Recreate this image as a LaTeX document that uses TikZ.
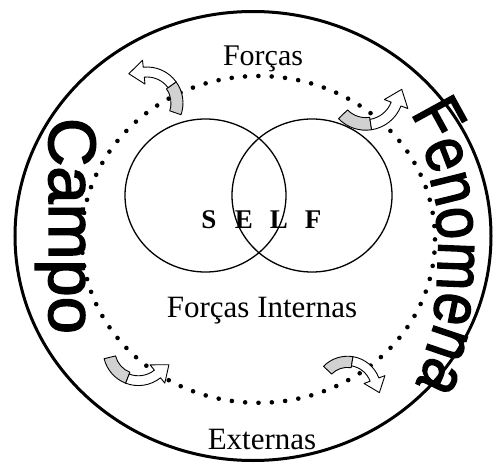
\documentclass[tikz,border=0pt]{standalone}
\usepackage{fontspec}
\setmainfont{Liberation Serif}
\newfontfamily\arialf{Liberation Sans}[FakeBold=2.2]
\usetikzlibrary{calc}
\definecolor{arrgray}{gray}{0.82}
\newcommand{\drawcurvarr}{%
  \filldraw[fill=arrgray, draw=black, line width=0.9pt, line join=round]
    (-15:36) arc[start angle=-15, end angle=40, radius=36] -- (40:24)
    arc[start angle=40, end angle=-15, radius=24] -- cycle;
  \filldraw[fill=white, draw=black, line width=0.9pt, line join=round]
    (40:36) arc[start angle=40, end angle=100, radius=36] -- (100:43)
    -- ($(100:31)+(190:15)$) -- (100:19) -- (100:26)
    arc[start angle=100, end angle=40, radius=26] -- cycle;
}
\tikzset{
  lbl/.style={font=\fontsize{31}{31}\selectfont, inner sep=0pt, anchor=base},
  selfl/.style={font=\bfseries\fontsize{27}{27}\selectfont, inner sep=0pt, anchor=base},
  fenl/.style={font=\arialf\fontsize{58}{58}\selectfont, inner sep=0pt, anchor=base},
  venn/.style={draw, line width=1.3pt},
}
\begin{document}
\begin{tikzpicture}[x=1pt,y=1pt]
\useasboundingbox (0,0) rectangle (493,467);
% outer ellipse
\draw[line width=3pt] (253,231) ellipse [x radius=238, y radius=224.5];
% dotted ellipse
\draw[line width=4.6pt, line cap=round, dash pattern=on 0pt off 13.36pt]
  (258.4,227.6) ellipse [x radius=176.6, y radius=163.4];
% venn circles
\draw[venn] (205.5,271.5) ellipse [x radius=80.5, y radius=76.5];
\draw[venn] (312,271.5) ellipse [x radius=80, y radius=76.5];
% curved arrows
\begin{scope}[shift={(147,364)}, rotate=-4]
  \drawcurvarr
\end{scope}
\begin{scope}[shift={(365.7,374.6)}, rotate=-121, scale=1.05]
  \drawcurvarr
\end{scope}
\begin{scope}[shift={(138.4,116.7)}, rotate=-151.2, scale=0.98]
  \drawcurvarr
\end{scope}
\begin{scope}[shift={(347.5,77.3)}, rotate=-59.4, xscale=-1, scale=0.93]
  \drawcurvarr
\end{scope}
% texts
\node[lbl, font=\fontsize{30}{30}\selectfont] (forcas) at (263,401) {Forças};
\node[lbl] (internas) at (262,150) {Forças Internas};
\node[lbl] (externas) at (262,18) {Externas};
\node[selfl] (s) at (209,239) {S};
\node[selfl] (e) at (244,239) {E};
\node[selfl] (l) at (279,239) {L};
\node[selfl] (f) at (313,239) {F};
\node[font=\arialf\fontsize{67}{67}\selectfont, rotate=-90, anchor=base, inner sep=0pt]
  (campo) at (49,241) {Campo};
\foreach \l/\a [count=\i] in {F/16.9, e/12.44, n/8.19, o/3.94, m/-1.37, e/-6.67, n/-10.92, a/-15.17}
  \node[fenl, rotate={1.7*\a-90}, yscale=1.15] (fen\i) at ($(3,212)+(\a:435)$) {\l};
\end{tikzpicture}
\end{document}
